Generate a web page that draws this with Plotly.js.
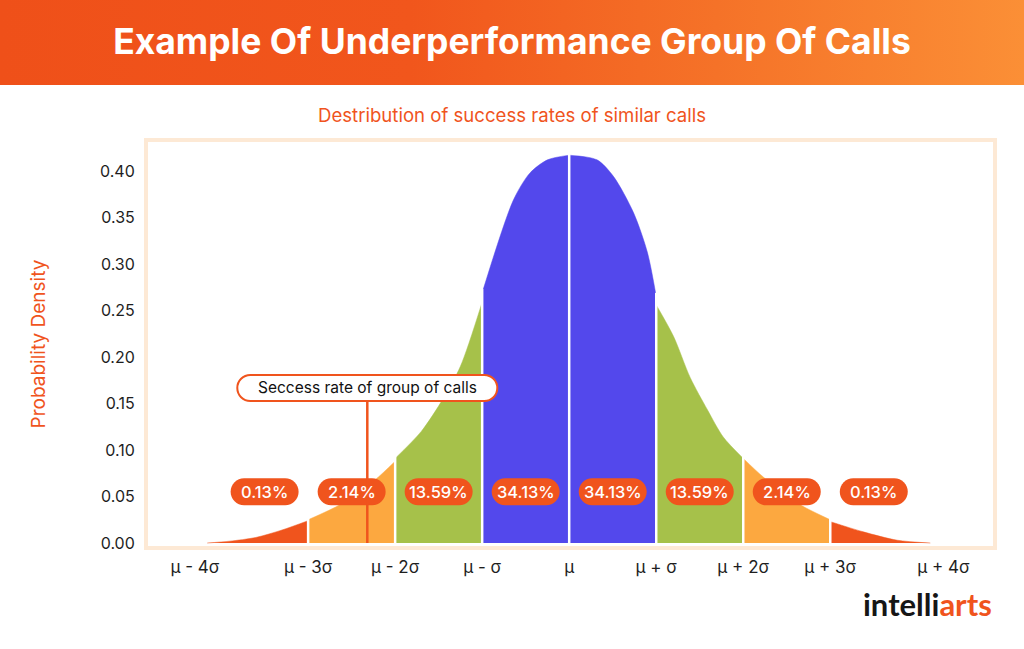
<!DOCTYPE html>
<html>
<head>
<meta charset="utf-8">
<script src="https://cdn.plot.ly/plotly-3.0.1.min.js"></script>
<style>
html,body{margin:0;padding:0;background:#ffffff;}
#wrap{position:relative;width:1024px;height:649px;overflow:hidden;}
#hdr{position:absolute;left:0;top:0;width:1024px;height:85px;background:linear-gradient(90deg,#ef5019 0%,#f1561c 40%,#f57228 70%,#fb8f36 100%);}
#chart{position:absolute;left:0;top:0;width:1024px;height:649px;}
</style>
</head>
<body>
<div id="wrap"><div id="hdr"></div><div id="chart"></div></div>
<script>
// ---------- data ----------
const tickLabels = ['μ - 4σ','μ - 3σ','μ - 2σ','μ - σ','μ','μ + σ','μ + 2σ','μ + 3σ','μ + 4σ'];
const tickPos    = [-4.3, -3, -2, -1, 0, 1, 2, 3, 4.3];
const boundaries = [-4, -3, -2, -1, 0, 1, 2, 3, 4];
const shares     = ['0.13%','2.14%','13.59%','34.13%','34.13%','13.59%','2.14%','0.13%'];

// curve pieces (x in σ from μ, y = probability density)
const tailLX   = [-4.16, -3.9, -3.6, -3.3, -3.0];
const tailLY   = [0.000, 0.002, 0.006, 0.014, 0.024];
const band2LX  = [-3.0, -2.62, -2.23, -2.0];
const band2LY  = [0.025, 0.042, 0.068, 0.088];
const band1LX  = [-2.0, -1.7, -1.45, -1.25, -1.0];
const band1LY  = [0.091, 0.120, 0.155, 0.190, 0.259];
const coreLX   = [-1.0, -0.64, -0.45, -0.25, 0.0];
const coreLY   = [0.269, 0.369, 0.398, 0.412, 0.417];
const coreRX   = [0.0, 0.32, 0.51, 0.74, 0.9, 1.0];
const coreRY   = [0.417, 0.412, 0.394, 0.355, 0.312, 0.265];
const band1RX  = [1.0, 1.2, 1.39, 1.59, 1.77, 2.0];
const band1RY  = [0.256, 0.222, 0.178, 0.143, 0.114, 0.091];
const band2RX  = [2.0, 2.23, 2.62, 3.0];
const band2RY  = [0.091, 0.071, 0.043, 0.025];
const tailRX   = [3.0, 3.38, 3.77, 4.15];
const tailRY   = [0.023, 0.012, 0.003, 0.000];

const groupRate = -2.32;     // success rate of the group (σ units)
const groupLabel = 'Seccess rate of group of calls';

// ---------- styling ----------
const RED = '#f0541d', ORANGE = '#fca840', GREEN = '#a6c14a', BLUE = '#5348ec';
const pieces = [
  [tailLX, tailLY, RED], [band2LX, band2LY, ORANGE], [band1LX, band1LY, GREEN], [coreLX, coreLY, BLUE],
  [coreRX, coreRY, BLUE], [band1RX, band1RY, GREEN], [band2RX, band2RY, ORANGE], [tailRX, tailRY, RED]
];

const traces = pieces.map(([xs, ys, c]) => ({
  type: 'scatter', mode: 'lines', x: xs, y: ys,
  line: {color: c, width: 0.5, shape: 'spline', smoothing: 0.8},
  fill: 'tozeroy', fillcolor: c, hoverinfo: 'skip', showlegend: false
}));

function pillPath(w, h) {
  const r = h / 2, a = w / 2 - r, k = 0.5523 * r;
  return `M ${-a} ${-r} L ${a} ${-r} C ${a+k} ${-r} ${a+r} ${-k} ${a+r} 0 C ${a+r} ${k} ${a+k} ${r} ${a} ${r} ` +
         `L ${-a} ${r} C ${-a-k} ${r} ${-a-r} ${k} ${-a-r} 0 C ${-a-r} ${-k} ${-a-k} ${-r} ${-a} ${-r} Z`;
}

const shapes = [];
const annotations = [];

// white separators between bands
for (let i = 1; i < boundaries.length - 1; i++) {
  const b = boundaries[i];
  const left = pieces[i - 1], right = pieces[i];
  const h = Math.max(left[1][left[1].length - 1], right[1][0]);
  shapes.push({type: 'line', xref: 'x', yref: 'y', x0: b, x1: b, y0: 0, y1: h + 0.004,
               line: {color: '#ffffff', width: 2.5}});
}

// percentage pills
const pillY = 0.055;
for (let i = 0; i < shares.length; i++) {
  const cx = (boundaries[i] + boundaries[i + 1]) / 2;
  shapes.push({type: 'path', xref: 'x', yref: 'y', xsizemode: 'pixel', ysizemode: 'pixel',
               xanchor: cx, yanchor: pillY, path: pillPath(68, 27),
               fillcolor: RED, line: {width: 0}});
  annotations.push({x: cx, y: pillY, xref: 'x', yref: 'y', text: shares[i], showarrow: false,
                    font: {family: 'Inter, sans-serif', size: 16.5, color: '#ffffff', weight: 500},
                    xanchor: 'center', yanchor: 'middle'});
}

// group marker
const boxY = 0.1667;
shapes.push({type: 'line', xref: 'x', yref: 'y', x0: groupRate, x1: groupRate, y0: 0, y1: boxY,
             line: {color: RED, width: 2.5}});
shapes.push({type: 'path', xref: 'x', yref: 'y', xsizemode: 'pixel', ysizemode: 'pixel',
             xanchor: groupRate, yanchor: boxY, path: pillPath(260, 26),
             fillcolor: '#ffffff', line: {color: RED, width: 2}});
annotations.push({x: groupRate, y: boxY, xref: 'x', yref: 'y', text: groupLabel, showarrow: false,
                  font: {family: 'Inter, sans-serif', size: 15.5, color: '#111111'},
                  xanchor: 'center', yanchor: 'middle'});

// subtitle
annotations.push({xref: 'paper', yref: 'paper', x: 0.4308, y: 1.0668, xanchor: 'center', yanchor: 'middle',
                  text: 'Destribution of success rates of similar calls', showarrow: false,
                  font: {family: 'Inter, sans-serif', size: 18.6, color: RED}});
// logo
annotations.push({xref: 'paper', yref: 'paper', x: 1.0012, y: -0.1436, xanchor: 'right', yanchor: 'middle',
                  text: '<span style="color:#161616">intelli</span><span style="color:#f0541d">arts</span>',
                  showarrow: false, font: {family: 'Lato, sans-serif', size: 31, weight: 700}});

const FRAME = '#fde9d5';
const layout = {
  width: 1024, height: 649,
  margin: {l: 148, r: 31, t: 142, b: 103},
  paper_bgcolor: 'rgba(0,0,0,0)', plot_bgcolor: '#ffffff',
  showlegend: false,
  title: {text: 'Example Of Underperformance Group Of Calls', xref: 'container', yref: 'container',
          x: 0.5, y: 1 - 42 / 649, xanchor: 'center', yanchor: 'middle',
          font: {family: 'Inter, sans-serif', size: 35.5, weight: 700, color: '#ffffff'}},
  xaxis: {range: [-4.84, 4.87], tickmode: 'array', tickvals: tickPos, ticktext: tickLabels,
          showgrid: false, zeroline: false, showline: true, mirror: true, linewidth: 4, linecolor: FRAME,
          ticks: '', ticklabelstandoff: 3,
          tickfont: {family: 'Inter, sans-serif', size: 17, color: '#1e1e1e'}, fixedrange: true},
  yaxis: {range: [-0.0032, 0.4312], tickmode: 'linear', tick0: 0, dtick: 0.05, tickformat: '.2f',
          showgrid: false, zeroline: false, showline: true, mirror: true, linewidth: 4, linecolor: FRAME,
          ticks: '', ticklabelstandoff: 6,
          tickfont: {family: 'Inter, sans-serif', size: 16, color: '#1e1e1e'},
          title: {text: 'Probability Density', standoff: 50, font: {family: 'Inter, sans-serif', size: 19, color: RED}},
          fixedrange: true},
  shapes: shapes,
  annotations: annotations
};

Plotly.newPlot('chart', traces, layout, {displayModeBar: false, staticPlot: true});
</script>
</body>
</html>
